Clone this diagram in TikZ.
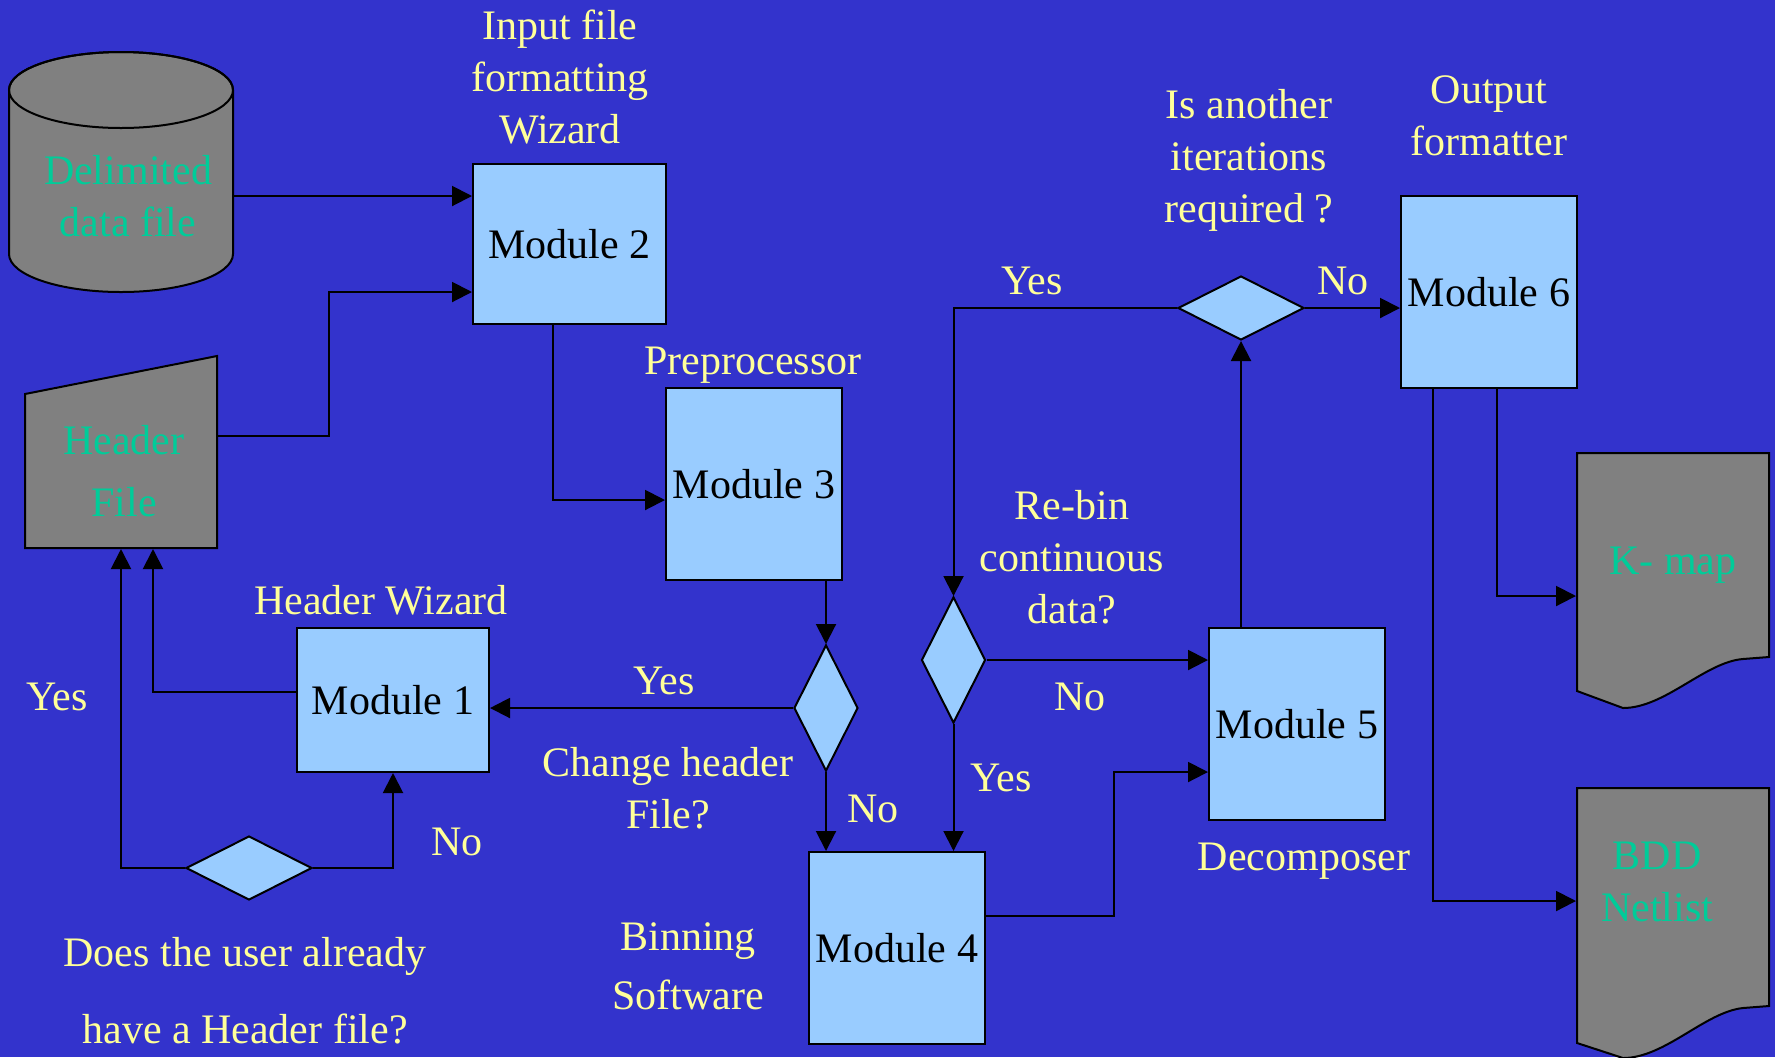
\documentclass[tikz,border=0pt]{standalone}
\usepackage{fontspec}
\setmainfont{Liberation Serif}
\usetikzlibrary{shapes.geometric,arrows.meta}
\definecolor{bgblue}{HTML}{3333CC}
\definecolor{boxblue}{HTML}{99CCFF}
\definecolor{filegray}{HTML}{808080}
\definecolor{filegreen}{HTML}{00CC99}
\definecolor{lblyellow}{HTML}{FFFF99}
\begin{document}
\begin{tikzpicture}[x=0.5pt,y=-0.5pt,line width=1pt,>={Triangle[length=10pt,width=10pt]},
  font=\fontsize{21}{26}\selectfont,
  module/.style={draw,fill=boxblue,minimum width=88pt,minimum height=96pt,inner sep=0pt},
  dec/.style={draw,fill=boxblue,diamond,inner sep=0pt},
  vdec/.style={dec,minimum width=32pt,minimum height=63pt},
  hdec/.style={dec,minimum width=63pt,minimum height=32pt},
  lbl/.style={text=lblyellow,align=center,inner sep=0pt},
  ftext/.style={text=filegreen,align=center,inner sep=0pt}]
\useasboundingbox (0,0) rectangle (1775,1057);
\fill[bgblue] (0,0) rectangle (1775,1057);
% files
\draw[fill=filegray] (9,90) -- (9,254) arc[start angle=180,end angle=360,x radius=56pt,y radius=19pt]
  -- (233,90) arc[start angle=0,end angle=180,x radius=56pt,y radius=19pt] -- cycle;
\draw (121,90) ellipse[x radius=56pt,y radius=19pt];
\node[ftext,minimum width=105pt] (data) at (128,196) {Delimited\\data file};
\draw[fill=filegray] (25,394) -- (217,356) -- (217,548) -- (25,548) -- cycle;
\node[ftext,font=\fontsize{21}{31}\selectfont,minimum width=93pt,minimum height=77pt] (hdr) at (124,471) {Header\\File};
\draw[fill=filegray] (1577,453) -- (1769,453) -- (1769,657) -- (1743,659)
  .. controls (1705,662) and (1665,708) .. (1623,708) -- (1577,691) -- cycle;
\node[ftext,minimum width=96pt] (kmap) at (1673,565) {K- map};
\draw[fill=filegray] (1577,788) -- (1769,788) -- (1769,1006) -- (1743,1008)
  .. controls (1705,1012) and (1665,1058) .. (1623,1058) -- (1577,1043) -- cycle;
\node[ftext,minimum width=80pt] (bdd) at (1657,882) {BDD\\Netlist};
% modules and decisions
\node[module,minimum width=96.5pt,minimum height=80pt] (m2) at (569.5,244) {Module 2};
\node[module] (m3) at (754,484) {Module 3};
\node[module,minimum width=96pt,minimum height=72pt] (m1) at (393,700) {Module 1};
\node[module] (m4) at (897,948) {Module 4};
\node[module] (m5) at (1297,724) {Module 5};
\node[module] (m6) at (1489,292) {Module 6};
\node[vdec] (d1) at (826,708) {};
\node[vdec] (d3) at (953.5,660) {};
\node[hdec] (d2) at (249,868) {};
\node[hdec] (d4) at (1241,308) {};
% labels
\node[lbl] (t2) at (560,77) {Input file\\formatting\\Wizard};
\node[lbl] (t3) at (753,365.5) {Preprocessor};
\node[lbl] (t1) at (381,600) {Header Wizard};
\node[lbl] (y1) at (664,681) {Yes};
\node[lbl] (q1) at (668,788) {Change header\\File?};
\node[lbl] (n1) at (873,809) {No};
\node[lbl] (y2) at (57,697) {Yes};
\node[lbl] (n2) at (457,842) {No};
\node[lbl,font=\fontsize{21}{38.5}\selectfont] (q2) at (245,991) {Does the user already\\have a Header file?};
\node[lbl,font=\fontsize{21}{29.5}\selectfont] (t4) at (688,966) {Binning\\Software};
\node[lbl] (y3) at (1001,778) {Yes};
\node[lbl] (n3) at (1080,697) {No};
\node[lbl] (q3) at (1072,557) {Re-bin\\continuous\\data?};
\node[lbl] (q4) at (1249,160.5) {Is another\\iterations\\required ?};
\node[lbl] (y4) at (1032,281) {Yes};
\node[lbl] (n4) at (1343,281) {No};
\node[lbl] (t5) at (1304,861.5) {Decomposer};
\node[lbl] (t6) at (1489,116) {Output\\formatter};
% connectors
\draw[->] (data.east) -- (data.east -| m2.west);
\draw[->] ([yshift=17.5pt]hdr.east) -- ++(111,0) |- ([yshift=-24pt]m2.west);
\draw[->] ([xshift=-8.25pt]m2.south) |- ([yshift=-8pt]m3.west);
\draw[->] (d1.north |- m3.south) -- (d1.north);
\draw[->] (d1.west) -- (d1.west -| m1.east);
\draw[->] (d1.south) -- (d1.south |- m4.north);
\draw[->] ([yshift=4pt]m1.west) -| ([xshift=14.5pt]hdr.south);
\draw[->] (d2.west) -| ([xshift=-1.5pt]hdr.south);
\draw[->] (d2.east) -| (m1.south);
\draw[->] ([yshift=16pt]m4.east) -- ++(128,0) |- ([yshift=-24pt]m5.west);
\draw[->] (d3.south) -- (d3.south |- m4.north);
\draw[->] (d3.east) -- (d3.east -| m5.west);
\draw[->] (d4.south |- m5.north) -- (d4.south);
\draw[->] (d4.west) -| (d3.north);
\draw[->] (d4.east) -- (d4.east -| m6.west);
\draw[->] ([xshift=4pt]m6.south) |- ([yshift=-15.5pt]kmap.west);
\draw[->] ([xshift=-28pt]m6.south) |- ([yshift=-9.5pt]bdd.west);
\end{tikzpicture}
\end{document}
